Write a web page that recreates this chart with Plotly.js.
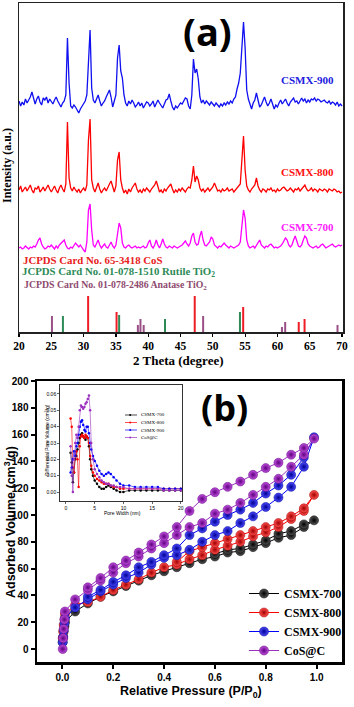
<!DOCTYPE html>
<html>
<head>
<meta charset="utf-8">
<script src="https://cdn.plot.ly/plotly-3.0.1.min.js"></script>
<style>
  html, body { margin: 0; padding: 0; background: #fff; }
  #chart { width: 354px; height: 707px; }
</style>
</head>
<body>
<div id="chart"></div>
<script>
// ---------- (a) XRD patterns, 2theta 20..70 step 0.25 ----------
const thetaStart = 20, thetaStep = 0.25;

// intensities above each pattern's own baseline (a.u.)
const xrd900 = [
  2,-3,1,-2,4,0,3,6,11,5,-1,4,7,1,-2,5,3,6,0,4,
  2,-1,3,6,2,-2,-4,0,2,8,65,20,-3,-5,-2,-4,-8,-10,-6,-3,
  0,2,8,45,73,15,3,0,5,8,2,-3,0,2,6,10,13,6,-4,2,
  8,45,58,32,25,8,0,-3,2,-1,3,0,-4,-2,1,-3,0,-5,-2,1,
  0,-3,-1,2,-4,-1,3,0,-2,-5,-1,3,4,9,2,-4,-7,-3,-5,-2,
  0,-1,2,5,4,-3,-6,8,44,30,34,24,6,0,3,-1,2,0,-2,1,
  -1,-3,0,-2,-4,-1,-3,0,-2,1,-1,2,0,4,6,14,20,30,55,81,
  55,13,4,-2,-6,0,3,10,4,-4,-2,2,6,1,-3,0,4,-1,-6,-2,
  -4,0,3,-1,2,4,0,-3,1,3,5,1,2,-1,3,5,2,4,0,3,
  1,4,3,5,2,4,3,1,2,3,1,0,2,-1,1,0,-2,1,-3,-1,
  -3
];
const xrd800 = [
  0,4,-2,1,3,-1,2,5,0,-3,2,1,4,-2,0,3,-1,2,5,1,
  -2,1,4,0,-3,2,5,1,-2,6,68,12,2,-1,3,0,-2,1,-3,0,
  2,-1,5,50,71,10,2,-2,3,7,1,-3,0,2,-1,3,6,9,2,-2,
  4,30,38,10,2,-3,0,-4,1,-2,2,5,7,1,-2,0,-3,1,-1,2,
  0,-2,1,3,5,9,2,-2,0,-3,1,-1,2,4,6,1,-3,0,-2,1,
  -1,2,0,-2,1,3,2,10,24,8,14,10,2,-1,1,-2,0,2,-1,1,
  3,7,2,-1,0,-2,1,-1,0,2,-1,0,1,-2,0,2,3,6,30,54,
  20,4,0,-2,1,3,5,12,4,0,-2,1,0,-2,1,0,2,-1,0,-2,
  1,-1,0,2,3,1,-1,0,2,0,-2,1,0,2,-1,1,3,5,1,-1,
  0,2,-1,1,0,-2,1,0,-1,1,0,-2,1,0,-1,1,0,-2,-1,-3,
  -2
];
const xrd700 = [
  0,1,-1,0,2,0,-1,1,0,2,1,4,8,10,4,1,-1,0,2,1,
  3,1,-1,2,0,3,5,7,8,3,0,-1,1,0,2,5,3,1,3,0,
  -2,-4,6,38,44,18,3,1,4,8,3,0,2,4,1,0,3,6,2,0,
  3,12,25,20,5,1,0,2,3,1,0,1,2,0,1,0,1,2,0,1,
  5,8,2,0,3,8,3,0,4,9,4,1,0,2,1,0,2,1,0,1,
  2,3,5,7,4,2,5,12,15,6,3,4,12,17,8,3,2,4,6,11,
  9,3,1,0,2,1,3,5,3,1,0,2,1,0,1,2,3,6,22,38,
  30,8,2,0,1,2,0,3,6,8,3,1,0,2,1,3,4,2,0,1,
  0,1,2,4,7,10,8,3,1,3,8,12,7,2,1,3,8,12,10,4,
  2,1,0,1,2,0,1,3,4,2,0,1,2,3,4,2,1,2,3,2,
  3
];
const twoTheta = xrd900.map((_, i) => thetaStart + i * thetaStep);

// reference cards (position, relative intensity)
const cosPos = [30.7, 35.1, 47.2, 54.7, 63.3, 64.2];
const cosInt = [36, 20, 36, 25, 10, 13];
const rutilePos = [26.8, 35.5, 42.6, 54.2];
const rutileInt = [16, 17, 13, 20];
const anatasePos = [25.1, 38.4, 38.8, 39.3, 48.5, 60.7, 61.2, 69.3];
const anataseInt = [16, 7, 13, 7, 16, 5, 10, 7];

// ---------- (b) N2 isotherms ----------
const adsP = [0.001,0.003,0.005,0.008,0.01,0.05,0.1,0.15,0.2,0.25,0.3,0.35,0.4,0.45,0.5,0.55,0.6,0.65,0.7,0.75,0.8,0.85,0.9,0.95,0.99];
const ads700 = [5,9,13,17,20,28,34,39,43,47,51,55,58,61,64,67,69,72,73,76,79,83,85,91,96];
const ads800 = [8,13,18,22,26,33,35,39,44,48,52,57,61,63,67,70,74,77,80,84,87,91,97,103,115];
const ads900 = [5,9,14,19,23,31,37,43,48,53,57,63,68,70,74,80,85,88,94,99,106,113,121,136,158];
const adsCoS = [0,8,15,22,28,37,44,51,57,64,69,75,79,85,91,94,101,104,109,115,121,127,136,145,157];

const des700P = [0.95,0.9,0.85,0.8,0.75,0.7,0.65,0.6];
const des700 = [93,88,86,81,78,75,74,71];
const des800P = [0.95,0.9,0.85,0.8,0.75,0.7,0.65,0.6,0.55,0.5,0.45];
const des800 = [105,99,94,91,88,85,82,79,76,73,65];
const des900P = [0.95,0.9,0.85,0.8,0.75,0.7,0.65,0.6,0.55,0.5,0.45,0.4,0.35,0.3,0.25,0.2,0.15,0.1];
const des900 = [143,130,122,116,109,104,100,95,90,85,75,70,65,61,55,50,44,39];
const desCoSP = [0.95,0.9,0.85,0.8,0.75,0.7,0.65,0.6,0.55,0.5,0.45,0.4,0.35,0.3,0.25,0.2,0.15,0.1];
const desCoS = [150,145,139,135,130,125,121,117,112,103,91,84,78,72,66,61,53,46];

// inset: pore size distribution
const poreWidth = [0.8,1.0,1.2,1.4,1.6,1.8,2.0,2.2,2.4,2.6,2.8,3.0,3.2,3.4,3.6,3.8,4.0,4.2,4.4,4.7,5.0,5.4,5.8,6.2,6.6,7.0,7.4,7.8,8.3,8.8,9.4,10,11,12,13,14,15,16,17,18,19,20];
const psd700 = [0.024,0.018,0.006,0.012,0.02,0.022,0.026,0.03,0.033,0.035,0.036,0.034,0.033,0.032,0.034,0.033,0.028,0.02,0.014,0.01,0.007,0.005,0.003,0.002,0.002,0.003,0.004,0.003,0.002,0.001,0.0,0.0,0.001,0.001,0.001,0.001,0.001,0.001,0.001,0.001,0.001,0.001];
const psd800 = [0.045,0.04,0.015,0.012,0.022,0.025,0.02,0.003,0.028,0.034,0.035,0.034,0.033,0.035,0.034,0.033,0.03,0.022,0.016,0.012,0.01,0.008,0.007,0.006,0.005,0.005,0.005,0.004,0.003,0.003,0.002,0.002,0.002,0.002,0.002,0.002,0.002,0.002,0.002,0.002,0.002,0.002];
const psd900 = [0.012,0.015,0.02,0.025,0.022,0.028,0.03,0.035,0.04,0.043,0.044,0.041,0.038,0.037,0.04,0.04,0.036,0.03,0.026,0.022,0.019,0.016,0.013,0.011,0.01,0.011,0.012,0.011,0.009,0.007,0.005,0.004,0.004,0.003,0.003,0.003,0.003,0.003,0.002,0.002,0.002,0.002];
const psdCoS = [0.028,0.01,0.0,0.02,0.03,0.035,0.033,0.04,0.05,0.053,0.052,0.051,0.052,0.054,0.055,0.057,0.059,0.05,0.03,0.02,0.014,0.011,0.009,0.007,0.006,0.005,0.005,0.004,0.004,0.003,0.003,0.003,0.002,0.002,0.002,0.002,0.002,0.002,0.001,0.001,0.001,0.001];

const seriesNames = ["CSMX-700", "CSMX-800", "CSMX-900", "CoS@C"];

// ---------- layout helpers ----------
const W = 354, H = 707;
const px = x => x / W;
const py = y => 1 - y / H;
const serif = "Liberation Serif, Times New Roman, serif";
const sans = "Liberation Sans, Arial, sans-serif";

// stacking offsets for the XRD patterns
const off900 = 229, off800 = 142, off700 = 84;

function stacked(vals, off) { return vals.map(v => v + off); }

function sticks(pos, inten, color) {
  const x = [], y = [];
  pos.forEach((p, i) => { x.push(p, p, null); y.push(0, inten[i], null); });
  return { x, y, mode: "lines", line: { color, width: 2 }, xaxis: "x", yaxis: "y",
           showlegend: false, hoverinfo: "skip" };
}

const traces = [
  { x: twoTheta, y: stacked(xrd900, off900), mode: "lines", line: { color: "#1010f0", width: 1.3 }, showlegend: false },
  { x: twoTheta, y: stacked(xrd800, off800), mode: "lines", line: { color: "#ff0000", width: 1.3 }, showlegend: false },
  { x: twoTheta, y: stacked(xrd700, off700), mode: "lines", line: { color: "#ff00ff", width: 1.3 }, showlegend: false },
  sticks(anatasePos, anataseInt, "#9a4f86"),
  sticks(rutilePos, rutileInt, "#2e8b57"),
  sticks(cosPos, cosInt, "#ee1c25")
];

const isoStyle = [
  { line: "#000000", fill: "#555555", edge: "#000000" },
  { line: "#ff0000", fill: "#ff5050", edge: "#a00000" },
  { line: "#0000ff", fill: "#4a4aff", edge: "#000090" },
  { line: "#9b30c0", fill: "#c050dd", edge: "#600080" }
];
const isoAds = [ads700, ads800, ads900, adsCoS];
const isoDesP = [des700P, des800P, des900P, desCoSP];
const isoDes = [des700, des800, des900, desCoS];

isoAds.forEach((ads, k) => {
  const s = isoStyle[k];
  traces.push({
    x: adsP.concat(isoDesP[k]), y: ads.concat(isoDes[k]),
    name: seriesNames[k], xaxis: "x2", yaxis: "y2",
    mode: "lines+markers",
    line: { color: s.line, width: 1 },
    marker: { symbol: "circle", size: 9, color: s.fill,
              gradient: { type: "radial", color: s.edge },
              line: { color: s.edge, width: 0.5 } }
  });
});

const psd = [psd700, psd800, psd900, psdCoS];
psd.forEach((vals, k) => {
  traces.push({
    x: poreWidth, y: vals, xaxis: "x3", yaxis: "y3", showlegend: false,
    mode: "lines+markers", line: { color: isoStyle[k].line, width: 0.6 },
    marker: { size: 2.5, color: isoStyle[k].line }
  });
});

const annotations = [];
function note(text, x, y, font, extra) {
  annotations.push(Object.assign({ text, x: px(x), y: py(y), xref: "paper", yref: "paper",
    showarrow: false, xanchor: "center", yanchor: "middle", font }, extra || {}));
}

note("(a)", 207, 31, { family: "Open Sans, sans-serif", size: 38, weight: "bold", color: "#000" });
note("(b)", 224, 407, { family: "Open Sans, sans-serif", size: 36, weight: "bold", color: "#000" });
note("CSMX-900", 307, 80, { family: serif, size: 11, weight: "bold", color: "#2020e0" });
note("CSMX-800", 307, 172, { family: serif, size: 11, weight: "bold", color: "#ff1010" });
note("CSMX-700", 307, 227, { family: serif, size: 11, weight: "bold", color: "#ff20ff" });
note("JCPDS Card No. 65-3418 CoS", 21, 260, { family: serif, size: 10.8, weight: "bold", color: "#e82020" }, { xanchor: "left" });
note("JCPDS Card No. 01-078-1510 Rutile TiO<sub>2</sub>", 20, 272, { family: serif, size: 10.8, weight: "bold", color: "#2e8b57" }, { xanchor: "left" });
note("JCPDS Card No. 01-078-2486 Anatase TiO<sub>2</sub>", 22, 285, { family: serif, size: 9.8, weight: "bold", color: "#8e4a6e" }, { xanchor: "left" });
note("Intensity (a.u.)", 7, 166, { family: serif, size: 12, weight: "bold", color: "#000" }, { textangle: -90 });
note("2 Theta (degree)", 179, 360, { family: serif, size: 13, weight: "bold", color: "#000" });
note("Adsorbed Volume (cm<sup>3</sup>/g)", 10, 522, { family: sans, size: 12.5, weight: "bold", color: "#000" }, { textangle: -90 });
note("Relative Pressure (P/P<sub>0</sub>)", 191, 692, { family: sans, size: 12.5, weight: "bold", color: "#000" });
note("Differential Pore Volume (cm<sup>3</sup>/g)", 47, 440, { family: sans, size: 5, color: "#000" }, { textangle: -90 });
note("Pore Width (nm)", 122, 513, { family: sans, size: 5, color: "#000" });

// inset legend (drawn as layout decoration)
const shapes = [];
const insetLegY = [415, 422.5, 430, 437.5];
insetLegY.forEach((y, k) => {
  shapes.push({ type: "line", xref: "paper", yref: "paper", x0: px(125), x1: px(137), y0: py(y), y1: py(y),
                line: { color: isoStyle[k].line, width: 0.7 } });
  shapes.push({ type: "circle", xref: "paper", yref: "paper", x0: px(129.2), x1: px(131.2), y0: py(y - 1), y1: py(y + 1),
                fillcolor: isoStyle[k].line, line: { width: 0 } });
  note(seriesNames[k], 138.5, y, { family: serif, size: 5, color: "#000" }, { xanchor: "left" });
});

const axBase = { showgrid: false, zeroline: false, showline: true, mirror: true, color: "#000" };

const layout = {
  width: W, height: H,
  margin: { l: 0, r: 0, t: 0, b: 0 },
  paper_bgcolor: "#fff", plot_bgcolor: "rgba(0,0,0,0)",
  showlegend: true,
  legend: { x: px(244), y: py(579), xanchor: "left", yanchor: "top", bgcolor: "rgba(0,0,0,0)",
            font: { family: serif, size: 12, weight: "bold", color: "#000" }, tracegroupgap: 0 },
  xaxis: Object.assign({}, axBase, {
    domain: [px(19), px(343)], range: [20, 70.15], anchor: "y",
    tickvals: [20, 25, 30, 35, 40, 45, 50, 55, 60, 65, 70], ticks: "outside", ticklen: 3, tickwidth: 1.2,
    linewidth: 1.5, linecolor: "#222",
    tickfont: { family: serif, size: 11.5, weight: "bold", color: "#000" }
  }),
  yaxis: Object.assign({}, axBase, {
    domain: [py(332), py(3)], range: [0, 329], anchor: "x",
    showticklabels: false, ticks: "", linewidth: 1.5, linecolor: "#222"
  }),
  xaxis2: Object.assign({}, axBase, {
    domain: [px(37), px(342)], range: [-0.1, 1.1], anchor: "y2",
    tickvals: [0, 0.2, 0.4, 0.6, 0.8, 1.0], tickformat: ".1f",
    ticks: "outside", ticklen: 4, tickwidth: 2, linewidth: 2.5, linecolor: "#000",
    tickfont: { family: sans, size: 10, weight: "bold", color: "#000" }
  }),
  yaxis2: Object.assign({}, axBase, {
    domain: [py(662), py(381)], range: [-9.7, 200], anchor: "x2",
    tickvals: [0, 20, 40, 60, 80, 100, 120, 140, 160, 180, 200],
    ticks: "outside", ticklen: 4, tickwidth: 2, linewidth: 2.5, linecolor: "#000",
    tickfont: { family: sans, size: 10, weight: "bold", color: "#000" }
  }),
  xaxis3: Object.assign({}, axBase, {
    domain: [px(60), px(182)], range: [-1.04, 20.2], anchor: "y3",
    tickvals: [0, 5, 10, 15, 20], ticks: "outside", ticklen: 2, tickwidth: 0.6,
    linewidth: 0.8, linecolor: "#000",
    tickfont: { family: sans, size: 5, color: "#000" }
  }),
  yaxis3: Object.assign({}, axBase, {
    domain: [py(501), py(385)], range: [-0.0055, 0.0655], anchor: "x3",
    tickvals: [0, 0.01, 0.02, 0.03, 0.04, 0.05, 0.06], tickformat: ".2f",
    ticks: "outside", ticklen: 2, tickwidth: 0.6, linewidth: 0.8, linecolor: "#000",
    tickfont: { family: sans, size: 5, color: "#000" }
  }),
  annotations, shapes
};

Plotly.newPlot("chart", traces, layout, { staticPlot: true, displayModeBar: false });
</script>
</body>
</html>
